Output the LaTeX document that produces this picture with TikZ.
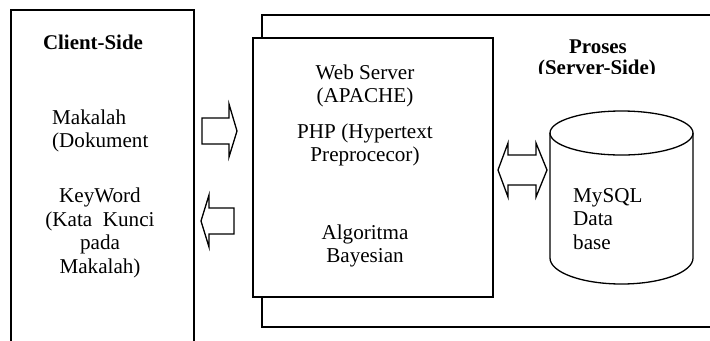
\documentclass[tikz,border=0pt]{standalone}
\usepackage{fontspec}
\setmainfont{Liberation Serif}
\begin{document}
\begin{tikzpicture}[x=1bp,y=-1bp,
  box/.style={draw=black,line width=1.5bp},
  blk/.style={draw=black,line width=1.3bp,fill=white,line join=miter},
  txt/.style={font=\fontsize{21.2}{23.5}\selectfont,align=center,inner sep=0pt},
  btxt/.style={font=\fontsize{21}{23.5}\selectfont\bfseries,align=center,inner sep=0pt}]
\useasboundingbox (0,0) rectangle (710,340);
\begin{scope}
\clip (0,0) rectangle (710,340);
% client side box (open at bottom)
\draw[box] (11,345) -- (11,10) -- (194,10) -- (194,345);
% outer server box (open at right)
\draw[box] (715,15) -- (262,15) -- (262,327) -- (715,327);
\end{scope}
% inner web server box
\draw[box,fill=white] (253,38) rectangle (493,297);
% block arrows
\draw[blk] (202,118) -- (229,118) -- (229,104) -- (237,131) -- (229,157) -- (229,144) -- (202,144) -- cycle;
\draw[blk] (234,208) -- (209,208) -- (209,195) -- (201,221) -- (209,247) -- (209,234) -- (234,234) -- cycle;
\draw[blk] (498,170) -- (508,143) -- (508,155) -- (536,155) -- (536,143) -- (547,170)
  -- (536,197) -- (536,185) -- (508,185) -- (508,197) -- cycle;
% database cylinder
\draw[line width=1.3bp] (550,133) -- (550,258) arc[start angle=180,end angle=360,x radius=71.5,y radius=-26] -- (693,133);
\draw[line width=1.3bp] (621.5,133) ellipse[x radius=71.5,y radius=22];
% texts
\node[btxt] (client) at (93,42) {Client-Side};
\node[txt,anchor=west,align=left] (makalah) at (52,131) {Makalah\\ (Dokument};
\node[txt] (keyword) at (100,233) {KeyWord\\(Kata\ \ Kunci\\pada\\Makalah)};
\node[txt] (web) at (365,86) {Web Server\\(APACHE)};
\node[txt] (php) at (365,145) {PHP (Hypertext\\Preprocecor)};
\node[txt] (algo) at (365,246) {Algoritma\\Bayesian};
\node[txt,anchor=west,align=left] (mysql) at (573,219) {MySQL\\Data\\base};
\node[btxt] (proses) at (598,47) {Proses};
\begin{scope}
\clip (500,55) rectangle (700,73);
\node[btxt] (server) at (597,69) {(Server-Side)};
\end{scope}
\end{tikzpicture}
\end{document}
